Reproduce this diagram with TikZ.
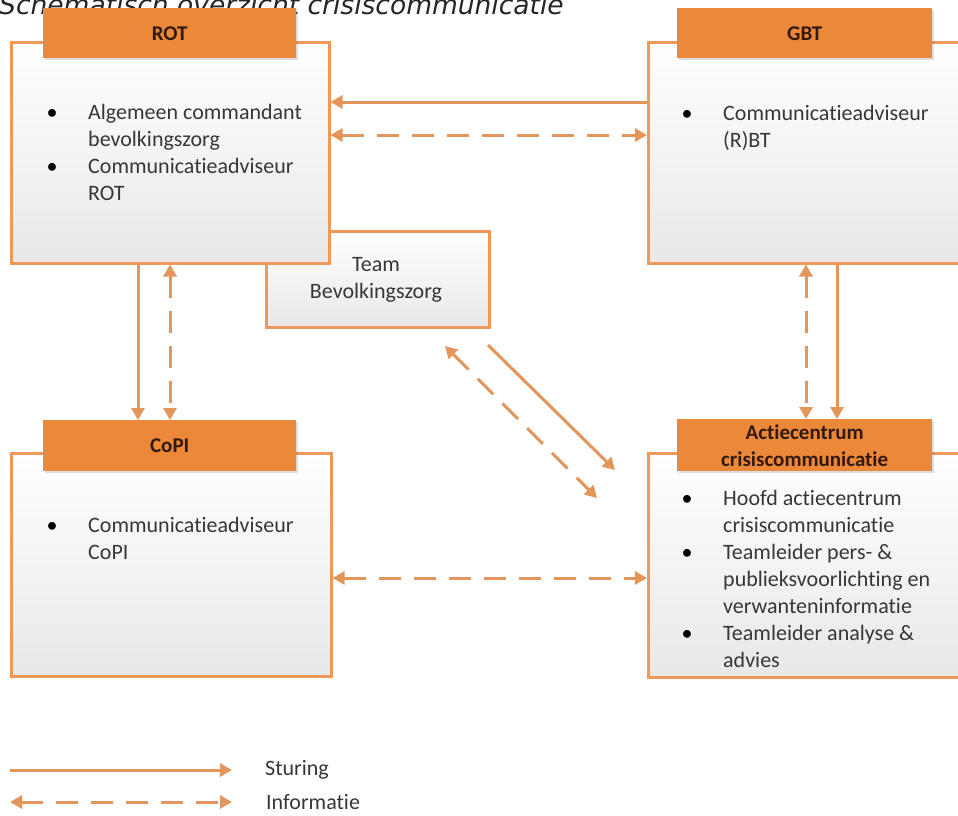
\documentclass[tikz,border=0pt]{standalone}
\usepackage{fontspec}
\setmainfont{Carlito}[Ligatures={CommonOff,ContextualOff}]
\newfontfamily\titlefont{DejaVu Sans}
\usetikzlibrary{arrows.meta,calc,shadows}

\definecolor{hdr}{RGB}{236,136,58}
\definecolor{bord}{RGB}{238,152,90}
\definecolor{arr}{RGB}{226,150,92}
\definecolor{txt}{RGB}{55,55,55}
\definecolor{hdrtxt}{RGB}{50,25,10}

\tikzset{
 panel/.style={draw=bord, line width=2.5pt, top color=white, bottom color=black!9, rectangle, inner sep=0pt, anchor=north west},
 header/.style={fill=hdr, draw=none, rectangle, inner sep=0pt, anchor=north west,
   font=\fontsize{21}{27}\selectfont\bfseries, text=hdrtxt, align=center,
   drop shadow={opacity=0.25, shadow xshift=2pt, shadow yshift=-2pt}},
 item/.style={anchor=base west, font=\fontsize{22}{27}\selectfont, text=txt, align=left, inner sep=0pt},
 bul/.style={anchor=base, font=\fontsize{22}{27}\selectfont, text=black, inner sep=0pt},
 tip/.tip={Triangle[length=12pt,width=13pt]},
 sturing/.style={draw=arr, line width=3pt, -tip},
 informatie/.style={draw=arr, line width=3pt, dash pattern=on 22pt off 13pt, tip-tip},
 lbl/.style={anchor=west, font=\fontsize{22}{27}\selectfont, text=txt, inner sep=0pt},
}

\begin{document}
\begin{tikzpicture}[x=1pt,y=-1pt]
\useasboundingbox (0,0) rectangle (958,815);
\clip (0,0) rectangle (958,815);

% title (cut at top)
\node[anchor=base west, inner sep=0pt, font=\titlefont\itshape\fontsize{26.5}{30}\selectfont, text=black!85] (title) at (-1,14) {Schematisch overzicht crisiscommunicatie};

% Team Bevolkingszorg (behind ROT)
\node[panel, minimum width=223pt, minimum height=96pt] (team) at (265,230) {};
\node[anchor=base, font=\fontsize{22}{27}\selectfont, text=txt, inner sep=0pt] (teamt1) at (376,271) {Team};
\node[anchor=base, font=\fontsize{22}{27}\selectfont, text=txt, inner sep=0pt] (teamt2) at (376,298) {Bevolkingszorg};

% ROT
\node[panel, minimum width=318pt, minimum height=221pt] (rot) at (10,41) {};
\node[header, minimum width=253pt, minimum height=50pt] (roth) at (43,8) {ROT};
\node[bul] (rb1) at (52,119) {•};
\node[item] (ri1) at (88,119) {Algemeen commandant};
\node[item] (ri2) at (88,146) {bevolkingszorg};
\node[bul] (rb2) at (52,173) {•};
\node[item] (ri3) at (88,173) {Communicatieadviseur};
\node[item] (ri4) at (88,200) {ROT};

% GBT
\node[panel, minimum width=320pt, minimum height=221pt] (gbt) at (647,41) {};
\node[header, minimum width=255pt, minimum height=50pt] (gbth) at (677,8) {GBT};
\node[bul] (gb1) at (687,120) {•};
\node[item] (gi1) at (723,120) {Communicatieadviseur};
\node[item] (gi2) at (723,147) {(R)BT};

% CoPI
\node[panel, minimum width=320pt, minimum height=223pt] (copi) at (10,452) {};
\node[header, minimum width=253pt, minimum height=51pt] (copih) at (43,420) {CoPI};
\node[bul] (cb1) at (52,532) {•};
\node[item] (ci1) at (88,532) {Communicatieadviseur};
\node[item] (ci2) at (88,559) {CoPI};

% Actiecentrum
\node[panel, minimum width=320pt, minimum height=224pt] (actie) at (647,452) {};
\node[header, minimum width=255pt, minimum height=52pt] (actieh) at (677,419) {Actiecentrum\\crisiscommunicatie};
\node[bul] (ab1) at (687,505) {•};
\node[item] (ai1) at (723,505) {Hoofd actiecentrum};
\node[item] (ai2) at (723,532) {crisiscommunicatie};
\node[bul] (ab2) at (687,559) {•};
\node[item] (ai3) at (723,559) {Teamleider pers- \&};
\node[item] (ai4) at (723,586) {publieksvoorlichting en};
\node[item] (ai5) at (723,613) {verwanteninformatie};
\node[bul] (ab3) at (687,640) {•};
\node[item] (ai6) at (723,640) {Teamleider analyse \&};
\node[item] (ai7) at (723,667) {advies};

% connectors
\draw[sturing] ([yshift=-61pt]gbt.north west) -- ([yshift=-61pt]rot.north east);
\draw[informatie] ([yshift=-94pt]rot.north east) -- ([yshift=-94pt]gbt.north west);

\draw[sturing] ([xshift=128pt]rot.south west) -- ([xshift=95pt]copih.north west);
\draw[informatie] ([xshift=160pt]rot.south west) -- ([xshift=127pt]copih.north west);

\draw[sturing] ([xshift=190pt]gbt.south west) -- ([xshift=160pt]actieh.north west);
\draw[informatie] ([xshift=159pt]gbt.south west) -- ([xshift=129pt]actieh.north west);

\draw[informatie] ([yshift=-126pt]copi.north east) -- ([yshift=-126pt]actie.north west);

\coordinate (ds1) at (488,345);
\coordinate (ds2) at (615,470);
\coordinate (di1) at (445,346);
\coordinate (di2) at (597,498);
\draw[sturing] (ds1) -- (ds2);
\draw[informatie] (di1) -- (di2);

% legend
\coordinate (ls1) at (10,770);
\coordinate (ls2) at (232,770);
\coordinate (li1) at (10,802);
\coordinate (li2) at (232,802);
\draw[sturing] (ls1) -- (ls2);
\draw[informatie] (li1) -- (li2);
\node[lbl] (lst) at (265,770) {Sturing};
\node[lbl] (lit) at (266,802) {Informatie};
\end{tikzpicture}
\end{document}
